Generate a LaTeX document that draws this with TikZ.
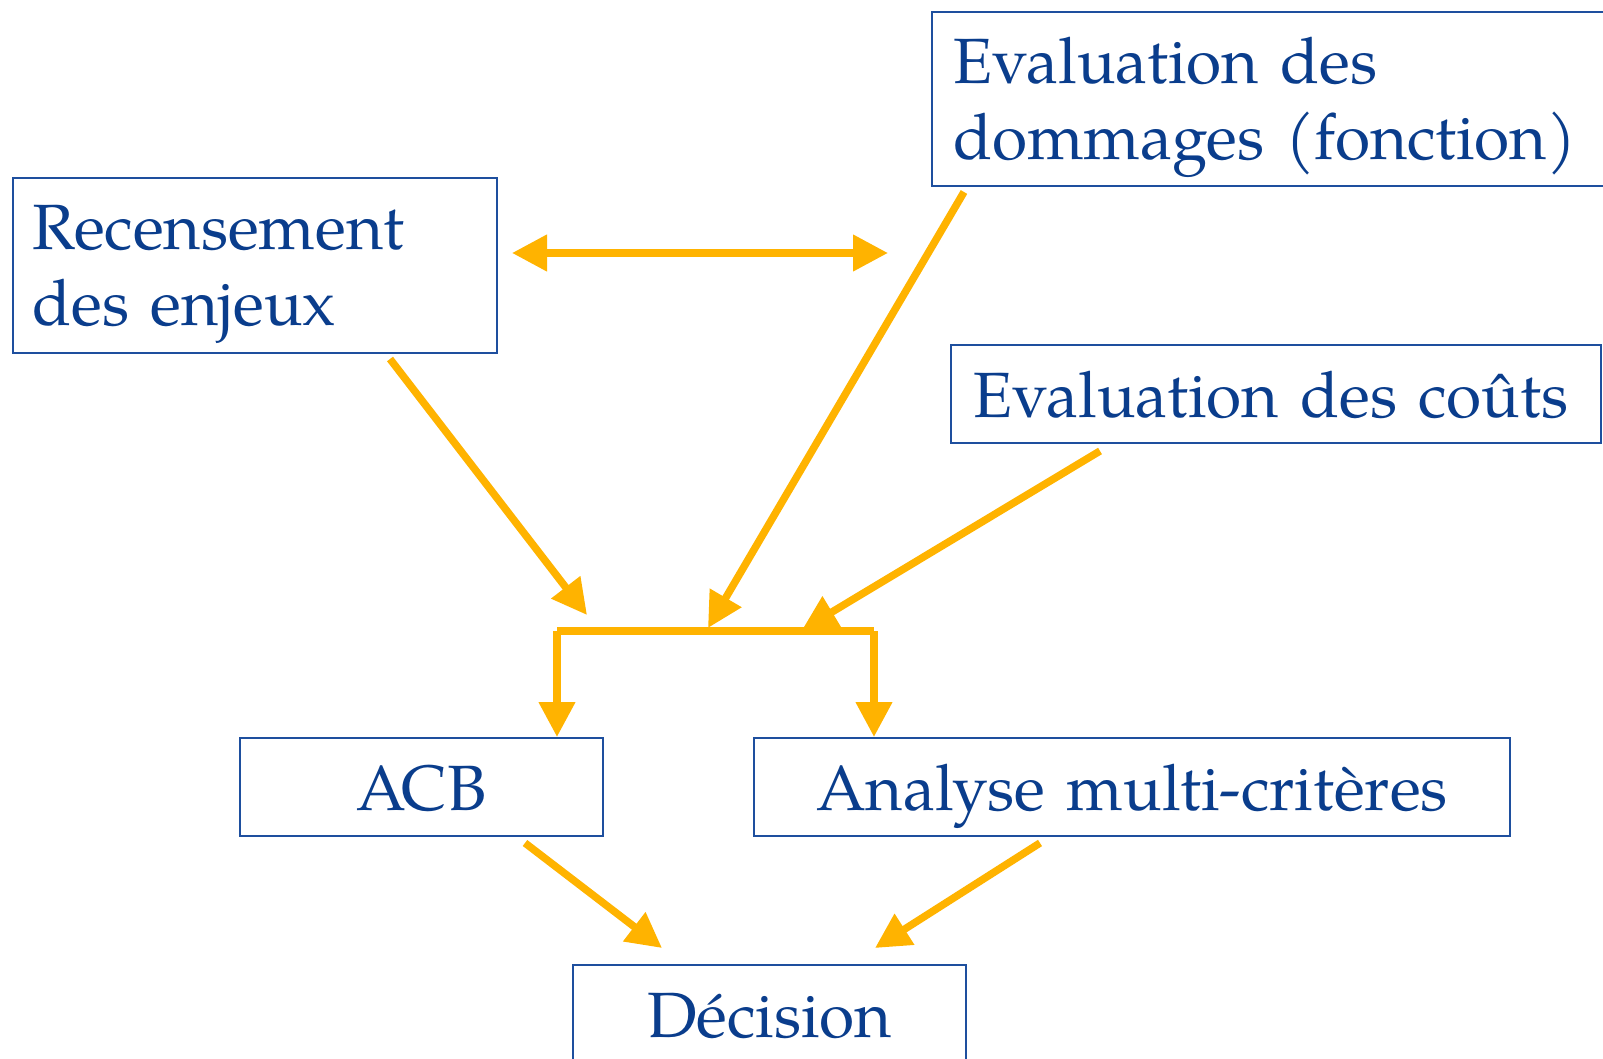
\documentclass[tikz,border=0pt]{standalone}
\usepackage{fontspec}
\setmainfont[WordSpace=0.65]{TeX Gyre Pagella}
\usetikzlibrary{arrows.meta}
\definecolor{txtblue}{HTML}{0A3D8C}
\definecolor{boxblue}{HTML}{1E4F9E}
\definecolor{arrorange}{HTML}{FFB300}
\begin{document}
\begin{tikzpicture}[x=0.5pt, y=-0.5pt,
    box/.style={draw=boxblue, line width=1pt, text=txtblue, anchor=north west,
        inner ysep=5pt, text height=31pt, font=\fontsize{32}{37.75}\selectfont},
    flow/.style={draw=arrorange, line width=3.75pt, -{Triangle[length=17.5pt,width=17.5pt]}}]
        \useasboundingbox (0,0) rectangle (1603,1059);
        \clip (0,0) rectangle (1603,1059);

        \node[box, inner xsep=9.8pt, text width=222.3pt, align=left, text depth=46.5pt] (rec) at (12,177) {Recensement\\des enjeux};
        \node[box, inner xsep=10.5pt, text width=323.5pt, align=left, text depth=46pt] (dom) at (931,11) {Evaluation des\\dommages (fonction)};
        \node[box, inner xsep=11pt, text width=303pt, align=left, text depth=8pt] (cout) at (950,344.5) {Evaluation des co\^uts};
        \node[box, inner xsep=5pt, text width=171.5pt, align=center, text depth=8pt] (acb) at (239,737) {ACB};
        \node[box, inner xsep=5pt, text width=368pt, align=center, text depth=8pt] (amc) at (753,737) {Analyse multi-crit\`eres};
        \node[box, inner xsep=5pt, text width=186.5pt, align=center, text depth=30pt] (dec) at (572,964) {D\'ecision};

        \coordinate (lr) at (512,253);
        \coordinate (rr) at (888,253);
        \coordinate (rec out) at (390,359);
        \coordinate (dom out) at (964,192);
        \coordinate (cout out) at (1100,451);
        \coordinate (in1) at (587,615);
        \coordinate (in2) at (708,628);
        \coordinate (in3) at (802,630);
        \coordinate (jl) at (557,631);
        \coordinate (jr) at (874,631);
        \coordinate (acb out) at (525,843);
        \coordinate (amc out) at (1040,843);
        \coordinate (dec in1) at (662,948);
        \coordinate (dec in2) at (875,948);

        \draw[flow, {Triangle[length=17.5pt,width=17.5pt]}-{Triangle[length=17.5pt,width=17.5pt]}] (lr) -- (rr);
        \draw[flow] (rec out) -- (in1);
        \draw[flow] (dom out) -- (in2);
        \draw[flow] (cout out) -- (in3);
        \draw[draw=arrorange, line width=3.75pt] (jl) -- (jr);
        \draw[flow] (jl) -- (acb.north -| jl);
        \draw[flow] (jr) -- (amc.north -| jr);
        \draw[flow] (acb out) -- (dec in1);
        \draw[flow] (amc out) -- (dec in2);

    \end{tikzpicture}
\end{document}
